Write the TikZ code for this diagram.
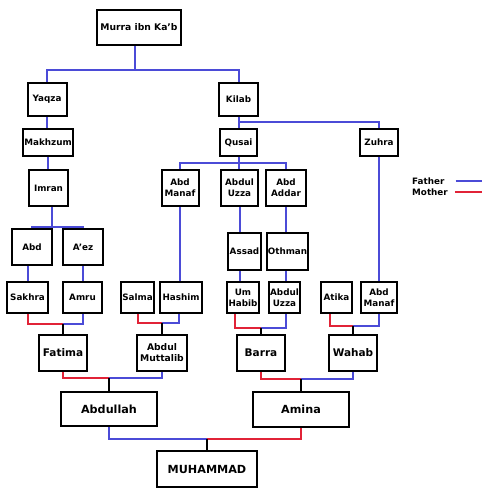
\documentclass[tikz,border=0pt]{standalone}
\usepackage{fontspec}
\setmainfont{DejaVu Sans}
\definecolor{fatherblue}{RGB}{75,75,215}
\definecolor{motherred}{RGB}{225,35,55}
\tikzset{
    person/.style={draw=black, line width=2pt, fill=white, align=center, inner sep=1pt,
        font=\bfseries\fontsize{8.8}{11}\selectfont},
    midperson/.style={person, font=\bfseries\fontsize{10.5}{12}\selectfont},
    bigperson/.style={person, font=\bfseries\fontsize{11.2}{13}\selectfont},
    father/.style={draw=fatherblue, line width=2pt},
    mother/.style={draw=motherred, line width=2pt},
    child/.style={draw=black, line width=2pt},
    legend/.style={inner sep=1pt, font=\bfseries\fontsize{8.8}{10}\selectfont},
}
\begin{document}
\begin{tikzpicture}[x=1pt, y=-1pt]
    \useasboundingbox (0,0) rectangle (500,496);

    \node[person, minimum width=84pt, minimum height=35pt, font=\bfseries\fontsize{9.2}{11}\selectfont] (murra) at (139,27.5) {Murra ibn Ka'b};

    \begin{scope}
        \node[person, minimum width=39pt, minimum height=33pt] (yaqza) at (47,99.5) {Yaqza};
        \node[person, minimum width=50pt, minimum height=27pt] (makhzum) at (48,142.5) {Makhzum};
        \node[person, minimum width=39pt, minimum height=36pt] (imran) at (48.5,188) {Imran};
        \node[person, minimum width=40pt, minimum height=36pt] (abd) at (32,247) {Abd};
        \node[person, minimum width=40pt, minimum height=36pt] (aez) at (83,247) {A'ez};
        \node[person, minimum width=41pt, minimum height=31pt] (sakhra) at (27.5,297.5) {Sakhra};
        \node[person, minimum width=39pt, minimum height=31pt] (amru) at (82.5,297.5) {Amru};
        \node[midperson, minimum width=48pt, minimum height=36pt] (fatima) at (63,353) {Fatima};
    \end{scope}

    \begin{scope}
        \node[person, minimum width=39pt, minimum height=33pt] (kilab) at (238.5,99.5) {Kilab};
        \node[person, minimum width=37pt, minimum height=27pt] (qusai) at (238.5,142.5) {Qusai};
        \node[person, minimum width=38pt, minimum height=27pt] (zuhra) at (379,142.5) {Zuhra};
        \node[person, minimum width=37pt, minimum height=36pt] (abdmanaf) at (180,188) {Abd\\Manaf};
        \node[person, minimum width=37pt, minimum height=36pt] (abduluzza) at (239.5,188) {Abdul\\Uzza};
        \node[person, minimum width=40pt, minimum height=36pt] (abdaddar) at (286,188) {Abd\\Addar};
        \node[person, minimum width=33pt, minimum height=37pt] (assad) at (244.5,251.5) {Assad};
        \node[person, minimum width=41pt, minimum height=37pt] (othman) at (287.5,251.5) {Othman};
        \node[person, minimum width=31pt, minimum height=31pt] (salma) at (137.5,297.5) {Salma};
        \node[person, minimum width=42pt, minimum height=31pt] (hashim) at (181,297.5) {Hashim};
        \node[person, minimum width=32pt, minimum height=31pt] (umhabib) at (243,297.5) {Um\\Habib};
        \node[person, minimum width=31pt, minimum height=31pt] (abduluzzab) at (284.5,297.5) {Abdul\\Uzza};
        \node[person, minimum width=31pt, minimum height=31pt] (atika) at (336.5,297.5) {Atika};
        \node[person, minimum width=36pt, minimum height=31pt] (abdmanafb) at (379,297.5) {Abd\\Manaf};
        \node[person, minimum width=50pt, minimum height=36pt, font=\bfseries\fontsize{9.2}{11}\selectfont] (abdulm) at (162,353) {Abdul\\Muttalib};
        \node[midperson, minimum width=48pt, minimum height=36pt] (barra) at (261,353) {Barra};
        \node[midperson, minimum width=48pt, minimum height=36pt] (wahab) at (353,353) {Wahab};
    \end{scope}

    \node[bigperson, minimum width=96pt, minimum height=34pt] (abdullah) at (109,409) {Abdullah};
    \node[bigperson, minimum width=96pt, minimum height=35pt] (amina) at (301,409.5) {Amina};
    \node[bigperson, minimum width=100pt, minimum height=36pt] (muhammad) at (207,469) {MUHAMMAD};

    \coordinate (jmurra) at (135,70);
    \coordinate (jimran) at (52,227);
    \coordinate (jkilab) at (238.5,122);
    \coordinate (jqusai) at (238.5,163);
    \coordinate (jfatima) at (63,324);
    \coordinate (jabdulm) at (162,323);
    \coordinate (jbarra) at (261,328);
    \coordinate (jwahab) at (353,326);
    \coordinate (jabdullah) at (109,378);
    \coordinate (jamina) at (301,379);
    \coordinate (jmuhammad) at (207,439);

    \draw[father] (jmurra |- murra.south) -- (jmurra);
    \draw[father] (yaqza.north) |- (jmurra) -| (kilab.north);
    \draw[father] (yaqza.south) -- (yaqza.south |- makhzum.north);
    \draw[father] (makhzum.south) -- (makhzum.south |- imran.north);
    \draw[father] (jimran |- imran.south) -- (jimran);
    \draw[father] (abd.north) |- (jimran) -| (aez.north);
    \draw[father] (sakhra.north) -- (sakhra.north |- abd.south);
    \draw[father] (amru.north) -- (amru.north |- aez.south);

    \draw[father] (kilab.south) -- (qusai.north);
    \draw[father] (jkilab) -| (zuhra.north);
    \draw[father] (qusai.south) -- (jqusai);
    \draw[father] (abdmanaf.north) |- (jqusai) -| (abdaddar.north);
    \draw[father] (jqusai) -- (jqusai |- abduluzza.north);
    \draw[father] (abdmanaf.south) -- (abdmanaf.south |- hashim.north);
    \draw[father] (abduluzza.south) -- (abduluzza.south |- assad.north);
    \draw[father] (assad.south -| abduluzza) -- (umhabib.north -| abduluzza);
    \draw[father] (abdaddar.south) -- (abdaddar.south |- othman.north);
    \draw[father] (othman.south -| abdaddar) -- (abduluzzab.north -| abdaddar);
    \draw[father] (zuhra.south) -- (zuhra.south |- abdmanafb.north);

    \draw[mother] (sakhra.south) |- (jfatima);
    \draw[father] (amru.south) |- (jfatima);
    \draw[child] (jfatima) -- (fatima.north);

    \draw[mother] (salma.south) |- (jabdulm);
    \draw[father] ([xshift=-2pt]hashim.south) |- (jabdulm);
    \draw[child] (jabdulm) -- (abdulm.north);

    \draw[mother] ([xshift=-8pt]umhabib.south) |- (jbarra);
    \draw[father] ([xshift=1.5pt]abduluzzab.south) |- (jbarra);
    \draw[child] (jbarra) -- (barra.north);

    \draw[mother] ([xshift=-7pt]atika.south) |- (jwahab);
    \draw[father] (abdmanafb.south) |- (jwahab);
    \draw[child] (jwahab) -- (wahab.north);

    \draw[mother] (fatima.south) |- (jabdullah);
    \draw[father] (abdulm.south) |- (jabdullah);
    \draw[child] (jabdullah) -- (abdullah.north);

    \draw[mother] (barra.south) |- (jamina);
    \draw[father] (wahab.south) |- (jamina);
    \draw[child] (jamina) -- (amina.north);

    \draw[father] (abdullah.south) |- (jmuhammad);
    \draw[mother] (amina.south) |- (jmuhammad);
    \draw[child] (jmuhammad) -- (muhammad.north);

    \node[legend, anchor=west] (lfather) at (411,181) {Father};
    \node[legend, anchor=west] (lmother) at (411,192) {Mother};
    \coordinate (legendend) at (482,186);
    \draw[father] ([xshift=10pt]lfather.east) -- (lfather.east -| legendend);
    \draw[mother] ([xshift=6pt]lmother.east) -- (lmother.east -| legendend);
\end{tikzpicture}
\end{document}
